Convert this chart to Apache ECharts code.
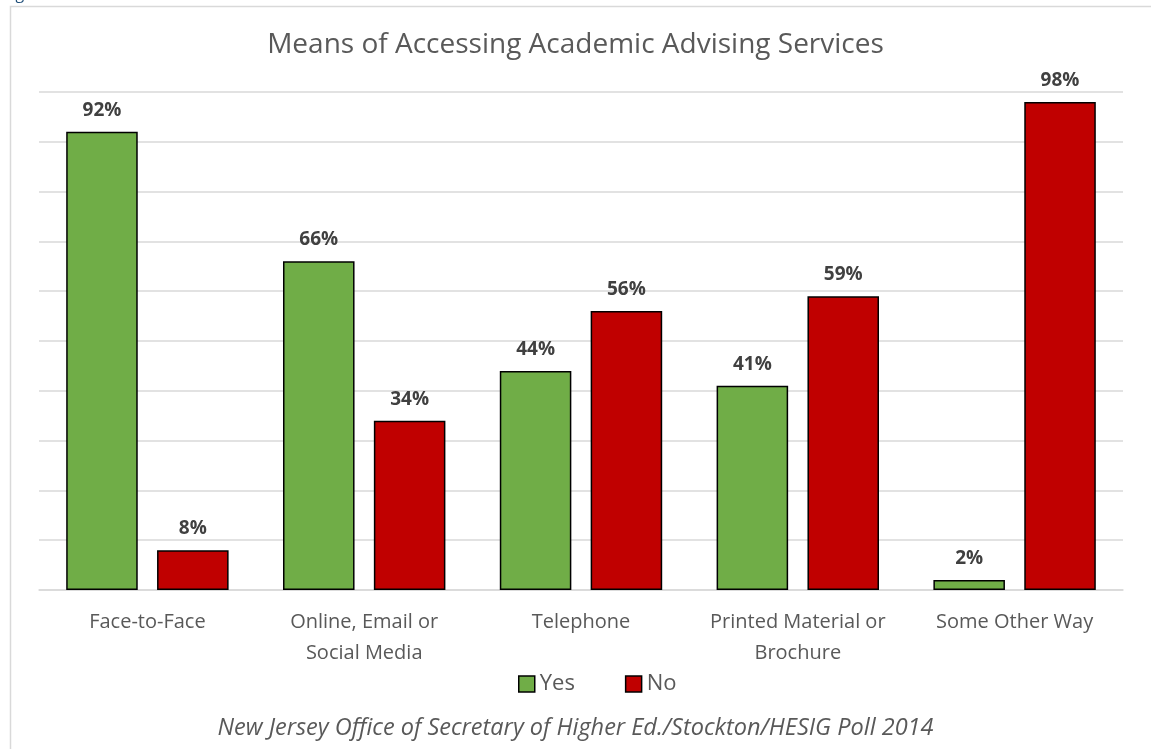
<!DOCTYPE html>
<html>
<head>
<meta charset="utf-8">
<script src="https://cdn.jsdelivr.net/npm/echarts@6/dist/echarts.min.js"></script>
<style>
  html, body { margin: 0; padding: 0; background: #fff; }
  #chart { width: 1151px; height: 749px; }
</style>
</head>
<body>
<div id="chart"></div>
<script>
// Survey answers per access channel (percent of respondents)
const categories = ['Face-to-Face', 'Online, Email or\nSocial Media', 'Telephone', 'Printed Material or\nBrochure', 'Some Other Way'];
const yesValues = [92, 66, 44, 41, 2];
const noValues = [8, 34, 56, 59, 98];

const FONT = '"Open Sans", "Noto Sans", sans-serif';
const TEXT = '#595959';

const chart = echarts.init(document.getElementById('chart'), null, { renderer: 'canvas' });

const labelStyle = {
  show: true,
  position: 'top',
  distance: 12,
  formatter: '{c}%',
  fontFamily: FONT,
  fontWeight: 'bold',
  fontSize: 19,
  color: '#404040'
};

chart.setOption({
  animation: false,
  backgroundColor: '#fff',
  graphic: [
    {
      // outer frame of the figure
      type: 'rect',
      shape: { x: 10.5, y: 6.5, width: 1160, height: 760 },
      style: { fill: 'none', stroke: '#d9d9d9', lineWidth: 1.5 },
      z: -1
    },
    {
      type: 'text',
      x: 4,
      y: 3,
      style: { text: 'Figure 6', fill: '#1f4e79', font: 'italic 17px ' + FONT, verticalAlign: 'bottom' }
    },
    {
      type: 'text',
      left: 'center',
      top: 717,
      style: {
        text: 'New Jersey Office of Secretary of Higher Ed./Stockton/HESIG Poll 2014',
        fill: TEXT,
        font: 'italic 23.5px ' + FONT
      }
    }
  ],
  title: {
    text: 'Means of Accessing Academic Advising Services',
    left: 'center',
    top: 26,
    textStyle: { fontFamily: FONT, fontWeight: 'normal', fontSize: 28, color: TEXT }
  },
  legend: {
    data: ['Yes', 'No'],
    top: 668,
    left: 513,
    itemWidth: 16,
    itemHeight: 16,
    itemGap: 50,
    icon: 'rect',
    itemStyle: { borderColor: '#000', borderWidth: 1.5 },
    textStyle: { fontFamily: FONT, fontSize: 22, color: TEXT }
  },
  grid: { left: 39, right: 28, top: 92, bottom: 159 },
  xAxis: {
    type: 'category',
    data: categories,
    axisTick: { show: false },
    axisLine: { lineStyle: { color: '#d9d9d9', width: 1.5 } },
    axisLabel: {
      interval: 0,
      hideOverlap: false,
      fontFamily: FONT,
      fontSize: 20,
      color: TEXT,
      margin: 17,
      lineHeight: 31
    }
  },
  yAxis: {
    type: 'value',
    min: 0,
    max: 100,
    interval: 10,
    axisLabel: { show: false },
    axisLine: { show: false },
    axisTick: { show: false },
    splitLine: { lineStyle: { color: '#d9d9d9', width: 1.5 } }
  },
  series: [
    {
      name: 'Yes',
      type: 'bar',
      data: yesValues,
      barWidth: '33%',
      barGap: '27%',
      itemStyle: { color: '#70ad47', borderColor: '#000', borderWidth: 1.5 },
      label: labelStyle
    },
    {
      name: 'No',
      type: 'bar',
      data: noValues,
      barWidth: '33%',
      itemStyle: { color: '#c00000', borderColor: '#000', borderWidth: 1.5 },
      label: labelStyle
    }
  ]
});
</script>
</body>
</html>
